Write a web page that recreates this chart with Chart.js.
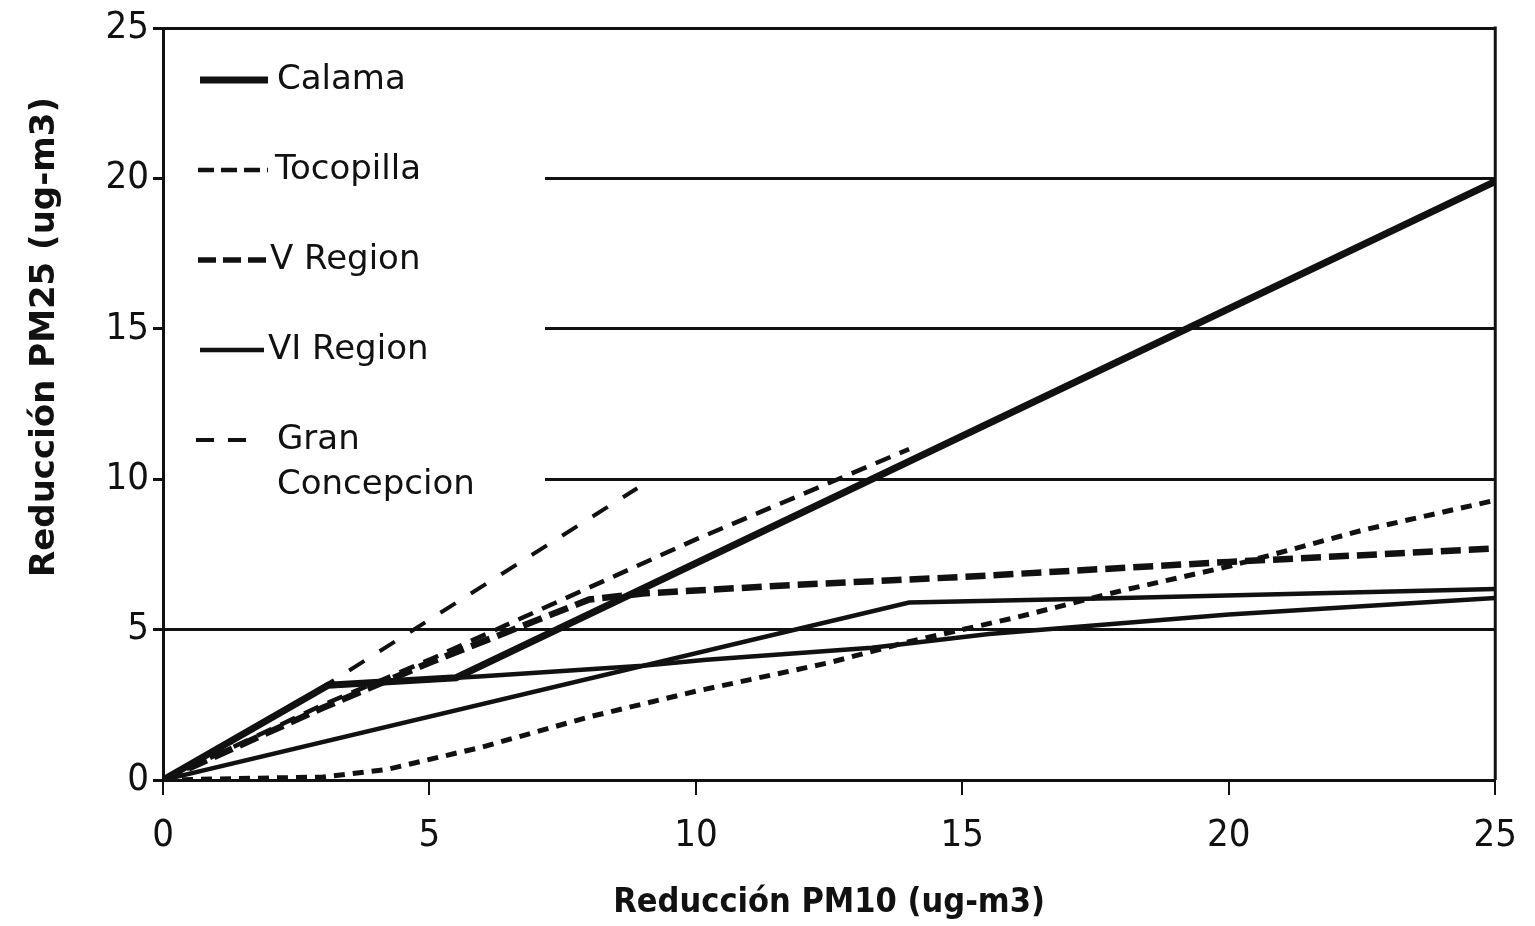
<!DOCTYPE html>
<html>
<head>
<meta charset="utf-8">
<script src="https://cdn.jsdelivr.net/npm/chart.js@4.4.0/dist/chart.umd.min.js"></script>
<style>
    html, body { margin: 0; padding: 0; background: #fff; }
    #wrap { width: 1535px; height: 926px; }
</style>
</head>
<body>
<div id="wrap"><canvas id="chart" width="1535" height="926"></canvas></div>
<script>
// Axis ticks
const xTicks = [0, 5, 10, 15, 20, 25];
const yTicks = [0, 5, 10, 15, 20, 25];

// Series (x = Reducción PM10, y = Reducción PM25)
const calamaX = [0, 3.1, 5.5, 25];
const calamaY = [0, 3.15, 3.4, 19.9];

const tocopillaX = [0, 3, 5, 7, 10, 14];
const tocopillaY = [0, 2.5, 4.0, 5.6, 8.0, 11.0];

const vRegionX = [0, 3, 5, 7, 8, 9, 12, 15, 20, 25];
const vRegionY = [0, 2.4, 3.9, 5.3, 6.0, 6.2, 6.5, 6.75, 7.25, 7.7];

const viRegionX = [0, 14, 18, 25];
const viRegionY = [0, 5.9, 6.05, 6.35];

const granConcepcionX = [0, 3.1, 8.9];
const granConcepcionY = [0, 3.2, 9.7];

// two more curves drawn in the plot but not in the visible legend
const serie6X = [0, 3.1, 6, 9, 10.2, 13.3, 15.5, 20, 25];
const serie6Y = [0, 3.15, 3.45, 3.8, 4.0, 4.4, 4.85, 5.5, 6.05];

const serie7X = [0, 3, 4.2, 6, 8, 10, 12.5, 14, 16, 18, 20, 22.5, 25];
const serie7Y = [0, 0.1, 0.35, 1.1, 2.1, 2.95, 3.9, 4.6, 5.4, 6.3, 7.1, 8.3, 9.3];

const ink = '#111';

function toPoints(xs, ys) {
    return xs.map((x, i) => ({ x: x, y: ys[i] }));
}

function line(label, xs, ys, width, dash) {
    return {
        label: label,
        data: toPoints(xs, ys),
        borderColor: ink,
        borderWidth: width,
        borderDash: dash,
        pointRadius: 0,
        tension: 0,
        fill: false
    };
}

// legend entries: sample style + label position
const legendItems = [
    { text: ['Calama'], y: 80, x1: 200, x2: 268, tx: 277, width: 7, dash: [] },
    { text: ['Tocopilla'], y: 170, x1: 198, x2: 268, tx: 275, width: 4.5, dash: [16, 7] },
    { text: ['V Region'], y: 260, x1: 198, x2: 268, tx: 270, width: 5.5, dash: [18, 7] },
    { text: ['VI Region'], y: 350, x1: 200, x2: 264, tx: 268, width: 4.5, dash: [] },
    { text: ['Gran', 'Concepcion'], y: 440, x1: 196, x2: 248, tx: 277, width: 4, dash: [18, 14] }
];

const plotDecor = {
    id: 'plotDecor',
    beforeDatasetsDraw(chart) {
        const { ctx, chartArea } = chart;
        ctx.save();
        // legend box hides the gridlines behind it
        ctx.fillStyle = '#fff';
        ctx.fillRect(chartArea.left + 2, chartArea.top + 3, 380, 477);
        // right frame line
        ctx.strokeStyle = ink;
        ctx.lineWidth = 3;
        ctx.beginPath();
        ctx.moveTo(chartArea.right, chartArea.top - 1.5);
        ctx.lineTo(chartArea.right, chartArea.bottom);
        ctx.stroke();
        ctx.restore();
    },
    afterDraw(chart) {
        const { ctx } = chart;
        ctx.save();
        legendItems.forEach(item => {
            ctx.strokeStyle = ink;
            ctx.lineWidth = item.width;
            ctx.setLineDash(item.dash);
            ctx.beginPath();
            ctx.moveTo(item.x1, item.y);
            ctx.lineTo(item.x2, item.y);
            ctx.stroke();
            ctx.setLineDash([]);
            ctx.fillStyle = ink;
            ctx.font = '34px "DejaVu Sans", sans-serif';
            ctx.textBaseline = 'middle';
            ctx.textAlign = 'left';
            item.text.forEach((t, i) => ctx.fillText(t, item.tx, item.y + i * 45));
        });
        // y axis title
        ctx.translate(45, 337);
        ctx.rotate(-Math.PI / 2);
        ctx.font = 'bold 34px "DejaVu Sans", sans-serif';
        ctx.textAlign = 'center';
        ctx.textBaseline = 'middle';
        ctx.fillText('Reducción PM25 (ug-m3)', 0, 0);
        ctx.restore();
    }
};

const tickFont = { family: '"Liberation Sans Narrow", "DejaVu Sans Condensed", Lato, sans-serif', size: 38 };

new Chart(document.getElementById('chart'), {
    type: 'line',
    data: {
        datasets: [
            line('Serie 7', serie7X, serie7Y, 5, [11, 8]),
            line('Serie 6', serie6X, serie6Y, 4.5, []),
            line('VI Region', viRegionX, viRegionY, 4.5, []),
            line('Gran Concepcion', granConcepcionX, granConcepcionY, 4, [18, 18]),
            line('Tocopilla', tocopillaX, tocopillaY, 4.5, [16, 10]),
            line('V Region', vRegionX, vRegionY, 6.5, [20, 8]),
            line('Calama', calamaX, calamaY, 7, [])
        ]
    },
    options: {
        responsive: false,
        animation: false,
        layout: { padding: { top: 28, right: 36, left: 0, bottom: 0 } },
        plugins: {
            legend: { display: false },
            tooltip: { enabled: false }
        },
        scales: {
            x: {
                type: 'linear',
                min: 0,
                max: 25,
                afterBuildTicks: s => { s.ticks = xTicks.map(v => ({ value: v })); },
                afterFit: s => { s.height = 146; },
                grid: { drawOnChartArea: false, color: ink, lineWidth: 2, tickLength: 15 },
                border: { color: ink, width: 3 },
                ticks: { color: ink, font: tickFont, padding: 18, maxRotation: 0 },
                title: {
                    display: true,
                    text: 'Reducción PM10 (ug-m3)',
                    color: ink,
                    font: { family: '"Liberation Sans Narrow", "DejaVu Sans Condensed", Lato, sans-serif', size: 34, weight: 'bold' },
                    padding: { top: 0, bottom: 2 }
                }
            },
            y: {
                type: 'linear',
                min: 0,
                max: 25,
                afterBuildTicks: s => { s.ticks = yTicks.map(v => ({ value: v })); },
                afterFit: s => { s.width = 163; },
                grid: { color: ink, lineWidth: 3, tickLength: 10 },
                border: { color: ink, width: 3 },
                ticks: { color: ink, font: tickFont, padding: 4 }
            }
        }
    },
    plugins: [plotDecor]
});
</script>
</body>
</html>
